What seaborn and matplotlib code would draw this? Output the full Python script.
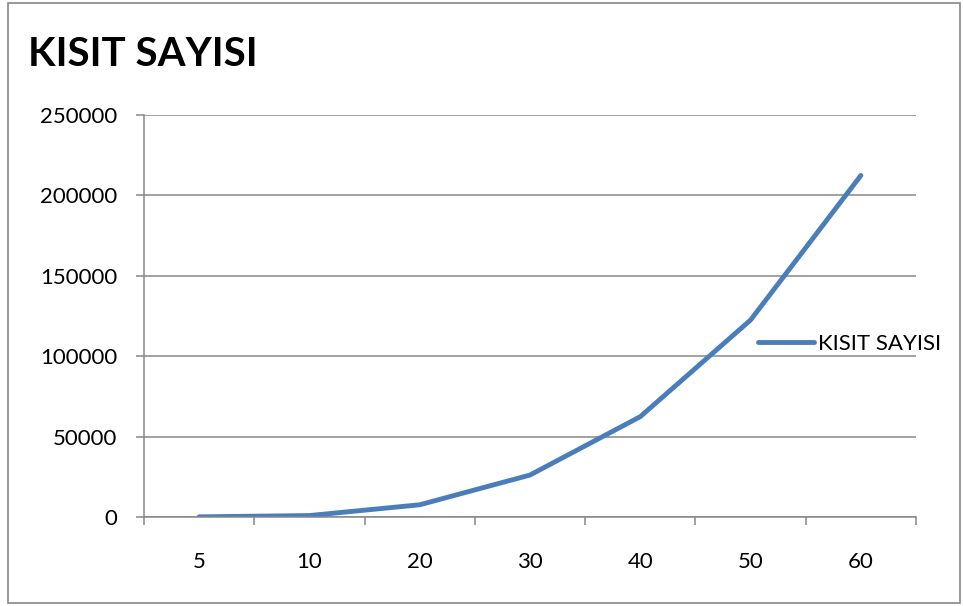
import matplotlib
matplotlib.use("Agg")
import matplotlib.pyplot as plt
import seaborn as sns
import pandas as pd
from matplotlib.patches import Rectangle
from matplotlib.ticker import FixedLocator

# Data
categories = ["5", "10", "20", "30", "40", "50", "60"]
kisit_sayisi = [100, 900, 7600, 26100, 62400, 122500, 212400]
series_name = "KISIT SAYISI"
y_ticks = [0, 50000, 100000, 150000, 200000, 250000]

df = pd.DataFrame({"n": categories, "value": kisit_sayisi})

sns.set_theme(style="white")
plt.rcParams["font.family"] = ["Lato", "DejaVu Sans"]
plt.rcParams["text.color"] = "black"

grey = "#878787"
blue = "#4A7EBB"

fig = plt.figure(figsize=(9.63, 6.06), dpi=100)
ax = fig.add_axes([144 / 963, 1 - 517 / 606, (916 - 144) / 963, (517 - 115) / 606])

sns.lineplot(data=df, x="n", y="value", ax=ax, color=blue, linewidth=3.5,
             label=series_name, sort=False, solid_capstyle="round")

ax.set_xlim(-0.5, len(categories) - 0.5)
ax.set_ylim(0, 250000)
ax.set_yticks(y_ticks)
ax.set_yticklabels([str(v) for v in y_ticks])
ax.set_xticks(range(len(categories)))
ax.set_xticklabels(categories)
ax.xaxis.set_minor_locator(FixedLocator([i - 0.5 for i in range(len(categories) + 1)]))

ax.grid(axis="y", color=grey, linewidth=1.1)
ax.grid(axis="x", visible=False)
ax.set_axisbelow(True)
for s in ["top", "right"]:
    ax.spines[s].set_visible(False)
for s in ["left", "bottom"]:
    ax.spines[s].set_color(grey)
    ax.spines[s].set_linewidth(1.1)

ax.tick_params(axis="y", which="major", length=6, width=1.1, color=grey,
               labelsize=16, pad=13, labelcolor="black", left=True)
ax.tick_params(axis="x", which="major", length=0, labelsize=16, pad=25,
               labelcolor="black")
ax.tick_params(axis="x", which="minor", length=6, width=1.1, color=grey,
               bottom=True)
ax.set_xlabel("")
ax.set_ylabel("")

leg = ax.legend(loc="center left", bbox_to_anchor=(758 / 963, 1 - 344 / 606),
                bbox_transform=fig.transFigure, frameon=False, fontsize=16,
                handlelength=2.5, handletextpad=0.2, borderpad=0, borderaxespad=0,
                labelcolor="black")

fig.text(28 / 963, 1 - 55 / 606, series_name, fontsize=29, fontweight="bold",
         ha="left", va="center", color="black")

fig.patches.append(Rectangle((8 / 963, 3 / 606), (960 - 8) / 963, (603 - 3) / 606,
                             transform=fig.transFigure, fill=False,
                             edgecolor=grey, linewidth=1.2))

fig.savefig("out.png", dpi=100)
